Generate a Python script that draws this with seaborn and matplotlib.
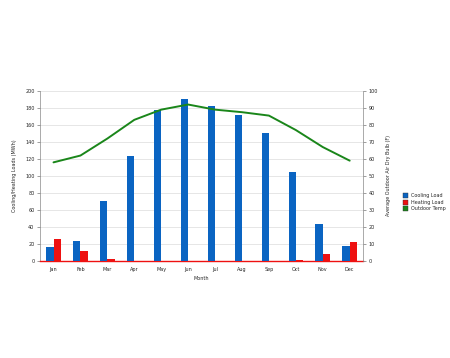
import matplotlib
matplotlib.use("Agg")
import matplotlib.pyplot as plt
import matplotlib.patches as mpatches
import seaborn as sns
import pandas as pd

# Données
mois = ["Jan", "Feb", "Mar", "Apr", "May", "Jun", "Jul", "Aug", "Sep", "Oct", "Nov", "Dec"]
charge_froid = [17, 23, 71, 124, 178, 190, 182, 172, 151, 105, 44, 18]
charge_chaud = [26, 12, 2, 0, 0, 0, 0, 0, 0, 1, 8, 22]
temp_ext = [58, 62, 72, 83, 89, 92, 89, 87.5, 85.5, 77, 67, 59]

bleu = "#0a64c2"
rouge = "#ee1111"
vert = "#1a861a"

df = pd.DataFrame({
    "Month": mois * 2,
    "Load": charge_froid + charge_chaud,
    "Type": ["Cooling Load"] * 12 + ["Heating Load"] * 12,
})

sns.set_style("white")
fig = plt.figure(figsize=(4.5, 3.58), dpi=100)
ax = fig.add_axes([0.089, 0.271, 0.718, 0.475])

sns.barplot(data=df, x="Month", y="Load", hue="Type", palette=[bleu, rouge],
            width=0.54, saturation=1, linewidth=0, ax=ax, legend=False, zorder=3)
ax.set_ylim(0, 200)
ax.set_yticks(range(0, 201, 20))
ax.grid(axis="y", color="#e2e2e2", linewidth=0.6, zorder=0)
ax.set_axisbelow(True)
ax.set_xlim(-0.5, 11.5)
ax.set_xlabel("Month", fontsize=3.5, labelpad=3)
ax.set_ylabel("Cooling/Heating Loads (MWh)", fontsize=3.5, labelpad=6)
ax.tick_params(axis="both", labelsize=3.5, length=2, width=0.4, pad=2, color="#555555")
for s in ["top", "right"]:
    ax.spines[s].set_visible(False)
ax.spines["left"].set_color("#888888")
ax.spines["left"].set_linewidth(0.5)
ax.spines["bottom"].set_color(rouge)
ax.spines["bottom"].set_linewidth(1.0)

ax2 = ax.twinx()
sns.lineplot(x=list(range(12)), y=temp_ext, color=vert, linewidth=1.4, ax=ax2)
ax2.set_ylim(0, 100)
ax2.set_yticks(range(0, 101, 10))
ax2.set_ylabel("Average Outdoor Air Dry Bulb (F)", fontsize=3.5, labelpad=6)
ax2.tick_params(axis="y", labelsize=3.5, length=2, width=0.4, pad=2, color="#555555")
for s in ["top", "left", "bottom"]:
    ax2.spines[s].set_visible(False)
ax2.spines["right"].set_color("#888888")
ax2.spines["right"].set_linewidth(0.5)

handles = [mpatches.Patch(facecolor=bleu, edgecolor="#333333", linewidth=0.3),
           mpatches.Patch(facecolor=rouge, edgecolor="#333333", linewidth=0.3),
           mpatches.Patch(facecolor=vert, edgecolor="#333333", linewidth=0.3)]
fig.legend(handles, ["Cooling Load", "Heating Load", "Outdoor Temp"],
           loc="center left", bbox_to_anchor=(0.885, 0.435), frameon=False,
           fontsize=3.5, handlelength=1.2, handleheight=1.2, handletextpad=0.5,
           labelspacing=0.3)

fig.savefig("out.png", dpi=100)
